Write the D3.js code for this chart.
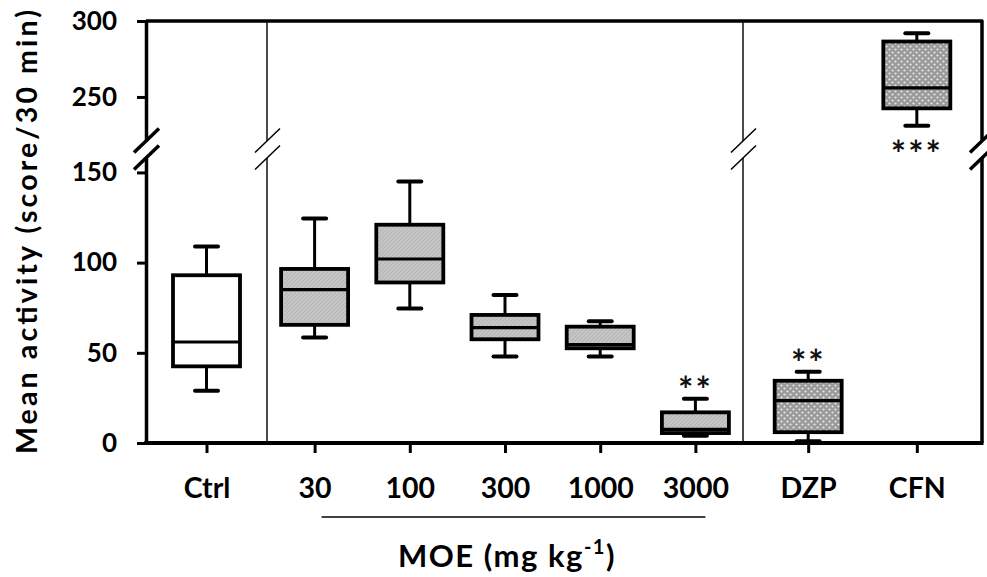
<!DOCTYPE html>
<html><head><meta charset="utf-8">
<script src="https://cdn.jsdelivr.net/npm/d3@7/dist/d3.min.js"></script>
<style>
html,body{margin:0;padding:0;background:#fff;}
svg{display:block;font-family:Lato,"Open Sans",sans-serif;font-weight:700;}
</style></head>
<body>
<svg id="chart" width="987" height="577"></svg>
<script>
// ---- data ----
const categories = ["Ctrl", "30", "100", "300", "1000", "3000", "DZP", "CFN"];
const groupOf    = ["control", "moe", "moe", "moe", "moe", "moe", "reference", "reference"];
const whiskerLow  = [29, 58.5, 74.5, 48, 48, 4, 1, 231];
const q1          = [42.5, 65.5, 89, 57.5, 52.5, 5.5, 6, 242.5];
const median      = [56, 85, 102, 64, 54.5, 7.5, 23.5, 256];
const q3          = [93, 96.5, 121, 71, 64.5, 17, 34.5, 286.5];
const whiskerHigh = [109, 124.5, 145, 82, 67.5, 24.5, 39.5, 292];
const significance = ["", "", "", "", "", "**", "**", "***"];
const yTicksLower = [0, 50, 100, 150];
const yTicksUpper = [250, 300];
const yTitle = "Mean activity (score/30 min)";
const xTitle = "MOE (mg kg";
const xTitleSup = "-1";

// ---- layout ----
const mLeft = 146, mRight = 982, mTop = 21, mBottom = 443;
const breakTop = 141, breakBottom = 158;
const div1 = 267, div2 = 743;
const boxW = 67, capW = 23;

const svg = d3.select("#chart");
const defs = svg.append("defs");
const pHatch = defs.append("pattern").attr("id","hatch").attr("patternUnits","userSpaceOnUse")
  .attr("width",4).attr("height",4);
pHatch.append("rect").attr("width",4).attr("height",4).attr("fill","#c4c4c4");
pHatch.append("path").attr("d","M-1,1 l2,-2 M0,4 l4,-4 M3,5 l2,-2").attr("stroke","#b4b4b4").attr("stroke-width",1);
const pDots = defs.append("pattern").attr("id","dots").attr("patternUnits","userSpaceOnUse")
  .attr("width",6).attr("height",6);
pDots.append("rect").attr("width",6).attr("height",6).attr("fill","#9a9a9a");
pDots.append("circle").attr("cx",1.5).attr("cy",1.5).attr("r",1.1).attr("fill","#e8e8e8");
pDots.append("circle").attr("cx",4.5).attr("cy",4.5).attr("r",1.1).attr("fill","#e8e8e8");
const fillFor = {control: "#ffffff", moe: "url(#hatch)", reference: "url(#dots)"};

// ---- scales ----
const xCtrl = d3.scalePoint().domain(categories.filter((c,i)=>groupOf[i]==="control")).range([mLeft, div1]).padding(0.5);
const xMoe  = d3.scalePoint().domain(categories.filter((c,i)=>groupOf[i]==="moe")).range([div1, div2]).padding(0.5);
const xRef  = d3.scalePoint().domain(categories.filter((c,i)=>groupOf[i]==="reference")).range([div2, mRight]).padding(0.6);
const xScales = {control: xCtrl, moe: xMoe, reference: xRef};
const xOf = i => xScales[groupOf[i]](categories[i]);

const yLow = d3.scaleLinear().domain([0, 158]).range([mBottom, breakBottom]);
const yUp  = d3.scaleLinear().domain([221, 300]).range([breakTop, mTop]);
const y = v => v >= 200 ? yUp(v) : yLow(v);

// ---- frame ----
svg.append("path").attr("d", `M${mLeft},${mTop}H${mRight}V${breakTop}M${mRight},${breakBottom}V${mBottom}`)
  .attr("fill","none").attr("stroke","#000").attr("stroke-width",3.5).attr("stroke-linejoin","round");
[div1, div2].forEach(x => {
  svg.append("path").attr("d", `M${x},${mTop}V${breakTop}M${x},${breakBottom}V${mBottom}`)
    .attr("stroke","#111").attr("stroke-width",1.5);
});

// ---- y axes ----
function styleAxis(g){
  g.select(".domain").attr("stroke-width",3.5);
  g.selectAll(".tick line").attr("stroke-width",3);
  g.selectAll(".tick text").attr("font-size",26).attr("font-weight",700).attr("font-family","Lato").attr("fill","#000");
}
svg.append("g").attr("transform",`translate(${mLeft},0)`)
  .call(d3.axisLeft(yUp).tickValues(yTicksUpper).tickSize(9).tickPadding(20).tickSizeOuter(0)).call(styleAxis);
svg.append("g").attr("transform",`translate(${mLeft},0)`)
  .call(d3.axisLeft(yLow).tickValues(yTicksLower).tickSize(9).tickPadding(20).tickSizeOuter(0)).call(styleAxis);

// ---- x axis ----
svg.append("line").attr("x1",mLeft-1.75).attr("x2",mRight+1.5).attr("y1",mBottom).attr("y2",mBottom)
  .attr("stroke","#000").attr("stroke-width",4);
Object.values(xScales).forEach(sc => {
  const g = svg.append("g").attr("transform",`translate(0,${mBottom})`)
    .call(d3.axisBottom(sc).tickSize(10).tickPadding(25).tickSizeOuter(0));
  g.select(".domain").remove();
  g.selectAll(".tick line").attr("stroke-width",3);
  g.selectAll(".tick text").attr("font-size",28.5).attr("font-weight",700).attr("font-family","Lato").attr("fill","#000");
});

// ---- break marks ----
function breakMarks(x, w){
  [breakTop, breakBottom].forEach(yy => {
    svg.append("line").attr("x1",x-12).attr("y1",yy+11.5).attr("x2",x+13).attr("y2",yy-12.5)
      .attr("stroke","#000").attr("stroke-width",w);
  });
}
breakMarks(mLeft, 3.5); breakMarks(mRight, 3.5); breakMarks(div1, 1.5); breakMarks(div2, 1.5);

// ---- boxes ----
const boxes = svg.append("g").selectAll("g").data(categories).join("g");
boxes.append("line").attr("x1",(d,i)=>xOf(i)).attr("x2",(d,i)=>xOf(i))
  .attr("y1",(d,i)=>y(whiskerHigh[i])).attr("y2",(d,i)=>y(whiskerLow[i]))
  .attr("stroke","#000").attr("stroke-width",3);
boxes.append("rect").attr("x",(d,i)=>xOf(i)-boxW/2).attr("width",boxW)
  .attr("y",(d,i)=>y(q3[i])).attr("height",(d,i)=>y(q1[i])-y(q3[i]))
  .attr("fill",(d,i)=>fillFor[groupOf[i]]).attr("stroke","#000").attr("stroke-width",3.8);
boxes.append("line").attr("x1",(d,i)=>xOf(i)-boxW/2).attr("x2",(d,i)=>xOf(i)+boxW/2)
  .attr("y1",(d,i)=>y(median[i])).attr("y2",(d,i)=>y(median[i]))
  .attr("stroke","#000").attr("stroke-width",3.2);
[whiskerHigh, whiskerLow].forEach(arr => {
  boxes.append("line").attr("x1",(d,i)=>xOf(i)-capW/2).attr("x2",(d,i)=>xOf(i)+capW/2)
    .attr("y1",(d,i)=>y(arr[i])).attr("y2",(d,i)=>y(arr[i]))
    .attr("stroke","#000").attr("stroke-width",4).attr("stroke-linecap","round");
});

// ---- significance ----
boxes.append("text").attr("x",(d,i)=>xOf(i)).attr("text-anchor","middle")
  .attr("y",(d,i)=> whiskerLow[i] >= 200 ? y(whiskerLow[i]) + 41 : y(whiskerHigh[i]) + 4)
  .attr("font-size",36).attr("letter-spacing",2).attr("font-family","Lato").attr("font-weight",700).attr("fill","#111")
  .text((d,i)=>significance[i]);

// ---- titles ----
svg.append("text").attr("transform","translate(37,232) rotate(-90)")
  .attr("text-anchor","middle").attr("font-size",28.5).attr("font-family","Lato").attr("font-weight",700)
  .attr("textLength",444).attr("lengthAdjust","spacing")
  .text(yTitle);
const moeCats = xMoe.domain();
svg.append("line").attr("x1",xMoe(moeCats[0])+7).attr("x2",xMoe(moeCats[moeCats.length-1])+10)
  .attr("y1",517).attr("y2",517).attr("stroke","#000").attr("stroke-width",1.5);
const xt = svg.append("text").attr("x",(div1+div2)/2+2).attr("y",567).attr("text-anchor","middle")
  .attr("font-size",31).attr("letter-spacing",1.5).attr("font-family","Lato").attr("font-weight",700);
xt.append("tspan").text(xTitle);
xt.append("tspan").attr("dy",-13).attr("font-size",20).text(xTitleSup);
xt.append("tspan").attr("dy",13).text(")");
</script>
</body></html>
